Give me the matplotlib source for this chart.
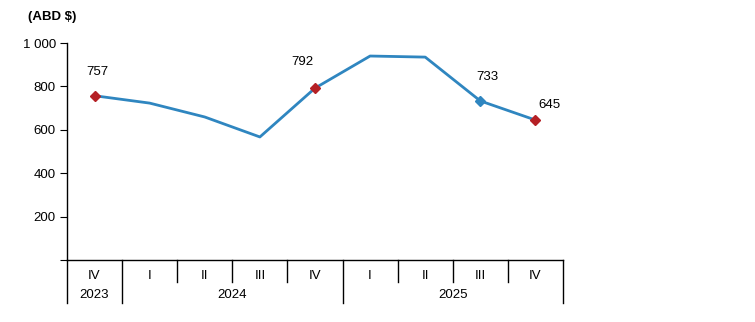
import matplotlib.pyplot as plt
from matplotlib.ticker import FuncFormatter

quarters = ["IV", "I", "II", "III", "IV", "I", "II", "III", "IV"]
years = ["2023", "2024", "2025"]
year_spans = [(0, 0), (1, 4), (5, 8)]
values = [757, 723, 659, 567, 792, 940, 935, 733, 645]
labelled = [0, 4, 7, 8]
label_offsets = [(2, 17), (-9, 19), (5, 17), (10, 11)]

line_color = "#2F86C0"
red = "#B52025"

plt.rcParams["font.family"] = ["Liberation Sans", "DejaVu Sans"]

fig = plt.figure(figsize=(7.55, 3.22), dpi=100)
ax = fig.add_axes([67 / 755, 62 / 322, 496 / 755, 217 / 322])

x = list(range(len(values)))
ax.plot(x, values, color=line_color, lw=2.0, zorder=2)

for i, (dx, dy) in zip(labelled, label_offsets):
    mc = line_color if i == 7 else red
    ax.plot(i, values[i], marker="D", ms=5, color=mc, zorder=3)
    ax.annotate(str(values[i]), (i, values[i]), xytext=(dx, dy),
                textcoords="offset points", ha="center", va="center",
                fontsize=9.5)

ax.set_xlim(-0.5, len(values) - 0.5)
ax.set_ylim(0, 1000)
ax.set_yticks([0, 200, 400, 600, 800, 1000])
ax.yaxis.set_major_formatter(FuncFormatter(
    lambda v, p: "" if v == 0 else f"{int(v):,}".replace(",", " ")))
ax.tick_params(axis="y", direction="out", length=5, width=0.8,
               labelsize=9.5, pad=3)

ax.set_xticks(x)
ax.set_xticklabels(quarters)
ax.tick_params(axis="x", length=0, labelsize=9.5, pad=7)

for s in ["top", "right"]:
    ax.spines[s].set_visible(False)
for s in ["left", "bottom"]:
    ax.spines[s].set_linewidth(1.0)

tr = ax.get_xaxis_transform()
year_bounds = {-0.5, 0.5, 4.5, 8.5}
for k in range(len(values) + 1):
    b = k - 0.5
    low = -0.198 if b in year_bounds else -0.101
    ax.plot([b, b], [0, low], color="black", lw=1.0, transform=tr,
            clip_on=False)

for name, (a, b) in zip(years, year_spans):
    ax.text((a + b) / 2, -0.16, name, transform=tr, ha="center",
            va="center", fontsize=9.5)

fig.text(28 / 755, 1 - 17 / 322, "(ABD $)", fontsize=9.5,
         fontweight="bold", va="center", ha="left")

fig.savefig("out.png", dpi=100)
